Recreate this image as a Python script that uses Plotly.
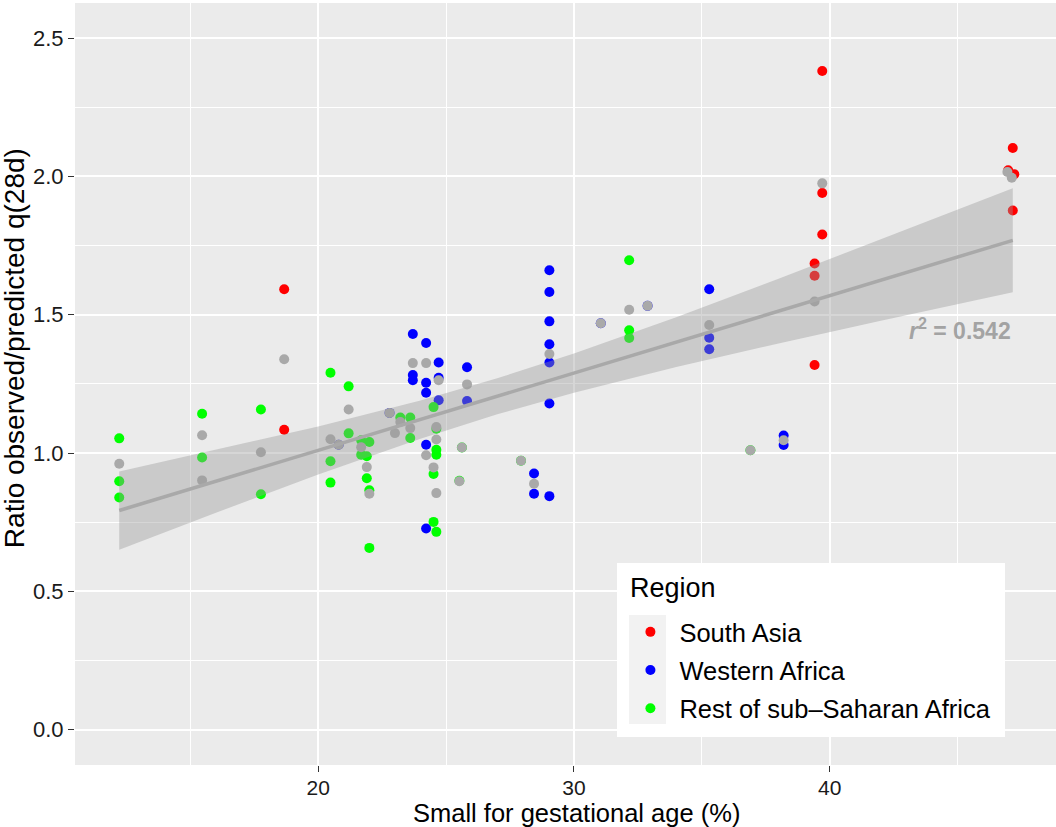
import plotly.graph_objects as go

# ---------------- data ----------------
south_asia_x = [18.67, 18.67, 39.71, 39.71, 39.71, 39.41, 39.41, 39.41, 47.16, 46.98, 47.22, 47.16]
south_asia_y = [1.592, 1.084, 2.381, 1.940, 1.790, 1.685, 1.641, 1.318, 2.103, 2.022, 2.008, 1.877]

western_africa_x = [23.70, 23.70, 23.70, 24.22, 24.22, 24.22, 24.22, 24.22, 24.71, 24.71, 24.71,
                    25.82, 25.82, 29.04, 29.04, 29.04, 29.04, 29.04, 29.04, 29.04, 28.44, 28.44,
                    35.29, 35.29, 35.29, 38.20, 38.20, 20.80, 22.79, 31.05, 32.88]
western_africa_y = [1.430, 1.282, 1.263, 1.398, 1.254, 1.218, 1.030, 0.727, 1.327, 1.272, 1.191,
                    1.310, 1.188, 1.661, 1.582, 1.476, 1.393, 1.327, 1.179, 0.844, 0.926, 0.853,
                    1.592, 1.417, 1.375, 1.063, 1.029, 1.030, 1.145, 1.469, 1.532]

rest_ssa_x = [12.22, 12.22, 12.22, 15.46, 15.46, 17.76, 17.76, 20.48, 20.48, 20.48, 21.19, 21.19,
              21.68, 21.68, 21.90, 21.90, 22.00, 22.00, 22.00, 23.21, 23.60, 23.60, 24.51, 24.62,
              24.62, 24.62, 24.51, 24.51, 24.62, 32.16, 32.16, 32.16, 25.62, 25.52, 27.93, 36.90]
rest_ssa_y = [1.053, 0.898, 0.839, 1.142, 0.984, 1.157, 0.851, 1.290, 0.970, 0.893, 1.241, 1.071,
              1.046, 0.994, 0.988, 0.909, 1.040, 0.865, 0.657, 1.128, 1.128, 1.054, 1.166, 1.088,
              1.012, 0.994, 0.924, 0.751, 0.715, 1.697, 1.444, 1.416, 1.020, 0.900, 0.972, 1.010]

other_x = [12.22, 15.46, 15.46, 17.76, 18.67, 20.48, 20.80, 21.19, 21.68, 21.90, 22.00, 22.79,
           23.00, 23.21, 23.60, 23.70, 24.22, 24.22, 24.71, 24.62, 24.62, 24.51, 24.62, 25.62,
           25.52, 25.82, 27.93, 28.44, 29.04, 31.05, 32.16, 32.88, 35.29, 36.90, 38.20, 39.41,
           39.71, 46.95, 47.12]
other_y = [0.961, 1.064, 0.901, 1.003, 1.339, 1.050, 1.030, 1.157, 1.021, 0.949, 0.853, 1.145,
           1.072, 1.112, 1.090, 1.325, 1.325, 0.992, 1.263, 1.094, 1.049, 0.948, 0.855, 1.020,
           0.898, 1.248, 0.972, 0.889, 1.358, 1.469, 1.518, 1.532, 1.463, 1.010, 1.046, 1.548,
           1.975, 2.016, 1.995]

# linear fit and its confidence band, read at several x positions
fit_x = [12.22, 16.0, 20.0, 24.0, 27.0, 30.0, 34.0, 38.0, 42.0, 47.16]
fit_y = [0.792, 0.898, 1.009, 1.121, 1.205, 1.289, 1.401, 1.513, 1.625, 1.769]
band_hi = [0.933, 1.011, 1.096, 1.190, 1.270, 1.360, 1.491, 1.630, 1.772, 1.957]
band_lo = [0.650, 0.784, 0.922, 1.052, 1.140, 1.218, 1.311, 1.396, 1.478, 1.581]

r2_label = "0.542"
x_ticks = [20, 30, 40]
y_ticks = [0.0, 0.5, 1.0, 1.5, 2.0, 2.5]

FONT = "Liberation Sans, Arial, Helvetica, sans-serif"

fig = go.Figure()

series = [
    ("South Asia", south_asia_x, south_asia_y, "#FF0000"),
    ("Western Africa", western_africa_x, western_africa_y, "#0000FF"),
    ("Rest of sub\u2013Saharan Africa", rest_ssa_x, rest_ssa_y, "#00FF00"),
]
for name, xs, ys, col in series:
    fig.add_trace(go.Scatter(x=xs, y=ys, mode="markers", name=name, legendgroup=name,
                             marker=dict(color=col, size=10, line=dict(width=0))))

fig.add_trace(go.Scatter(x=other_x, y=other_y, mode="markers", showlegend=False,
                         marker=dict(color="#A9A9A9", size=10, line=dict(width=0))))

# confidence band (drawn over the points, like the reference)
fig.add_trace(go.Scatter(x=fit_x, y=band_lo, mode="lines", line=dict(width=0), showlegend=False,
                         hoverinfo="skip"))
fig.add_trace(go.Scatter(x=fit_x, y=band_hi, mode="lines", line=dict(width=0), fill="tonexty",
                         fillcolor="rgba(153,153,153,0.4)", showlegend=False, hoverinfo="skip"))
fig.add_trace(go.Scatter(x=fit_x, y=fit_y, mode="lines", line=dict(color="#A9A9A9", width=3.5),
                         showlegend=False))

fig.add_annotation(x=47.16, y=1.447, xref="x", yref="y", xanchor="right", yanchor="middle",
                   text="<b><i>r</i><sup>2</sup> = " + r2_label + "</b>", showarrow=False,
                   font=dict(family=FONT, size=23, color="#A3A3A3"))

# axis titles
fig.add_annotation(x=0.5117, y=-0.0630, xref="paper", yref="paper", xanchor="center",
                   yanchor="middle", text="Small for gestational age (%)", showarrow=False,
                   borderpad=0, font=dict(family=FONT, size=25.5, color="black"))
fig.add_annotation(x=-0.0622, y=0.547, xref="paper", yref="paper", xanchor="center",
                   yanchor="middle", text="Ratio observed/predicted q(28d)", showarrow=False,
                   textangle=-90, font=dict(family=FONT, size=28, color="black"))

# legend box + key background (ggplot style) + legend title
fig.add_shape(type="rect", xref="paper", yref="paper", x0=0.5525, x1=0.948, y0=0.0367, y1=0.2651,
              fillcolor="white", line=dict(width=0), layer="above")
fig.add_shape(type="rect", xref="paper", yref="paper", x0=0.5647, x1=0.6024, y0=0.0538, y1=0.1969,
              fillcolor="#F2F2F2", line=dict(width=0), layer="above")
fig.add_annotation(x=0.5640, y=0.2323, xref="paper", yref="paper", xanchor="left",
                   yanchor="middle", text="Region", showarrow=False,
                   font=dict(family=FONT, size=27, color="black"))

fig.update_layout(
    width=1056, height=827,
    margin=dict(l=75, r=0, t=3, b=62),
    paper_bgcolor="white", plot_bgcolor="#EBEBEB",
    font=dict(family=FONT, color="black"),
    showlegend=True,
    legend=dict(
        font=dict(size=25.5, family=FONT),
        x=0.557, y=0.205, xanchor="left", yanchor="top",
        bgcolor="rgba(0,0,0,0)", borderwidth=0,
        tracegroupgap=2, itemwidth=48,
    ),
    xaxis=dict(
        range=[10.49, 48.85], tickvals=x_ticks, ticktext=[str(v) for v in x_ticks],
        showgrid=True, gridcolor="white", gridwidth=1.6, zeroline=False,
        ticks="outside", ticklen=6, tickwidth=1.2, tickcolor="#333333",
        tickfont=dict(size=21, color="#1A1A1A"), ticklabelstandoff=-2,
        minor=dict(tickvals=[15, 25, 35, 45], showgrid=True, gridcolor="white", gridwidth=0.8,
                   ticks=""),
        showline=False,
    ),
    yaxis=dict(
        range=[-0.128, 2.627], tickvals=y_ticks, ticktext=["%.1f" % v for v in y_ticks],
        showgrid=True, gridcolor="white", gridwidth=1.6, zeroline=False,
        ticks="outside", ticklen=6, tickwidth=1.2, tickcolor="#333333",
        tickfont=dict(size=22, color="#1A1A1A"),
        minor=dict(tickvals=[0.25, 0.75, 1.25, 1.75, 2.25], showgrid=True, gridcolor="white",
                   gridwidth=0.8, ticks=""),
        showline=False,
    ),
)

fig.write_html("out.html", post_script="document.body.style.margin='0';",
               config={"displayModeBar": False})
